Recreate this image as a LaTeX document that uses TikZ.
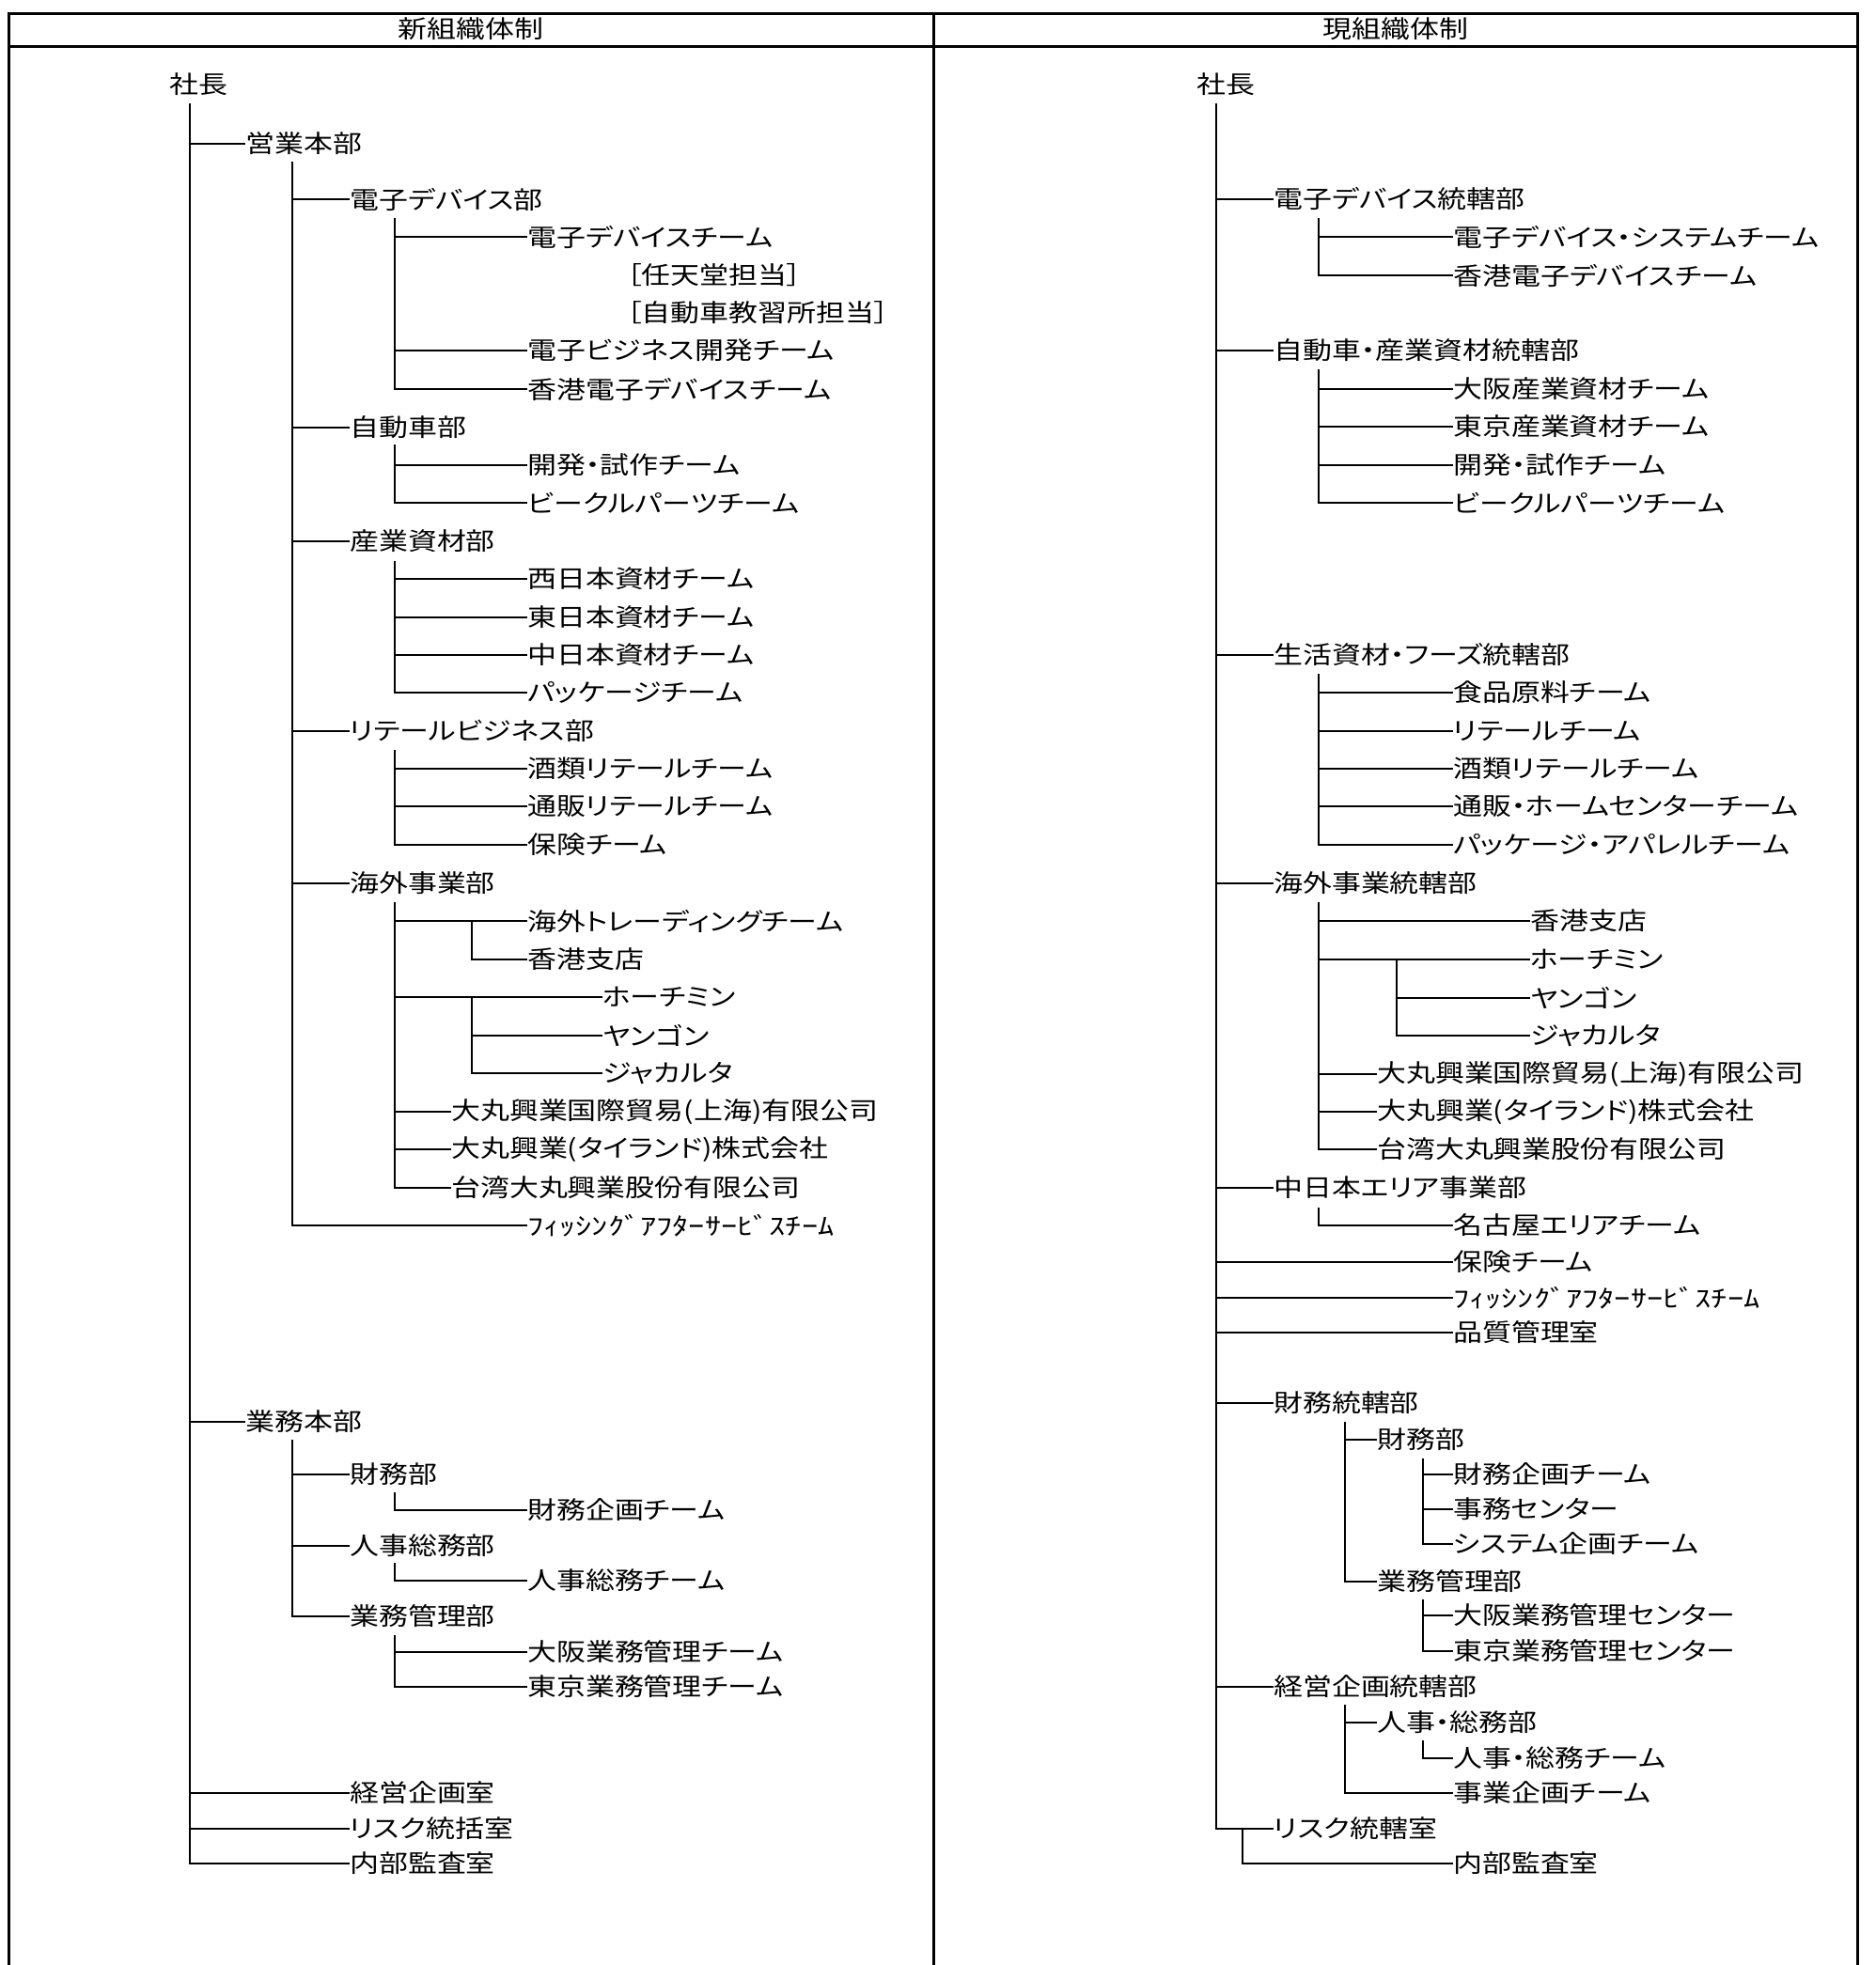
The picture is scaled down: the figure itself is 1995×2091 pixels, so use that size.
\documentclass[tikz,border=0pt]{standalone}
\usepackage{graphicx}
\usepackage{fontspec}
\setmainfont[FakeStretch=1.19,RawFeature=+palt]{Noto Sans CJK JP}
\newcommand{\widekana}[1]{\scalebox{1.11}[1]{#1}}

\begin{document}
\begin{tikzpicture}[x=1pt,y=-1pt,
  lbl/.style={anchor=west,inner sep=0pt,font=\fontsize{26}{30}\selectfont},
  ttl/.style={inner sep=0pt,font=\fontsize{26}{30}\selectfont},
  link/.style={line width=2pt},
  frame/.style={line width=3pt}]
\useasboundingbox (0,0) rectangle (1995,2091);

\draw[frame] (9,2091) -- (9,14) -- (1976,14) -- (1976,2091);
\draw[frame] (9,49) -- (1976,49);
\draw[frame] (993,14) -- (993,2091);
\node[ttl] (newtitle) at (501,31) {新組織体制};
\node[ttl] (curtitle) at (1485,31) {現組織体制};

\foreach \nm/\txt/\px/\py in {
  shachoA/社長/180/90, eigyo/営業本部/261/153,
  denshi/電子デバイス部/372/212, dteam/電子デバイスチーム/561/252,
  nintendo/［任天堂担当］/667/293, kyoshujo/［自動車教習所担当］/667/333,
  ebiz/電子ビジネス開発チーム/561/373, hkdev/香港電子デバイスチーム/561/414,
  jidosha/自動車部/372/455, kaihatsu/開発・試作チーム/561/495,
  vehicle/ビークルパーツチーム/561/535,
  sangyo/産業資材部/372/576, nishi/西日本資材チーム/561/616,
  higashi/東日本資材チーム/561/657, naka/中日本資材チーム/561/697,
  pkg/パッケージチーム/561/737,
  retail/リテールビジネス部/372/778, sake/酒類リテールチーム/561/818,
  tsuhan/通販リテールチーム/561/858, hoken/保険チーム/561/899,
  kaigai/海外事業部/372/940, trading/海外トレーディングチーム/561/980,
  hongkong/香港支店/561/1021, hcm/ホーチミン/641/1061,
  yangon/ヤンゴン/641/1102, jakarta/ジャカルタ/641/1142,
  shanghai/大丸興業国際貿易(上海)有限公司/480/1183,
  thai/大丸興業(タイランド)株式会社/480/1223,
  taiwan/台湾大丸興業股份有限公司/480/1264,
  fishing/\widekana{ﾌｨｯｼﾝｸﾞｱﾌﾀｰｻｰﾋﾞｽﾁｰﾑ}/561/1304,
  gyomu/業務本部/261/1513, zaimu/財務部/372/1569,
  zkikaku/財務企画チーム/561/1607, jinji/人事総務部/372/1645,
  jteam/人事総務チーム/561/1682, kanri/業務管理部/372/1720,
  osakak/大阪業務管理チーム/561/1758, tokyok/東京業務管理チーム/561/1795,
  keiei/経営企画室/372/1908, risk/リスク統括室/372/1946,
  kansa/内部監査室/372/1983}
  \node[lbl] (\nm) at (\px,\py) {\txt};

\foreach \nm/\txt/\px/\py in {
  shachoB/社長/1273/90,
  rdenshi/電子デバイス統轄部/1355/212,
  rdsys/電子デバイス・システムチーム/1546/252,
  rhkdev/香港電子デバイスチーム/1546/293,
  rjido/自動車・産業資材統轄部/1355/373,
  rosakas/大阪産業資材チーム/1546/414, rtokyos/東京産業資材チーム/1546/454,
  rkaihatsu/開発・試作チーム/1546/495, rvehicle/ビークルパーツチーム/1546/535,
  rseikatsu/生活資材・フーズ統轄部/1355/697,
  rfood/食品原料チーム/1546/737, rretail/リテールチーム/1546/778,
  rsake/酒類リテールチーム/1546/818,
  rtsuhan/通販・ホームセンターチーム/1546/858,
  rpkg/パッケージ・アパレルチーム/1546/899,
  rkaigai/海外事業統轄部/1355/940,
  rhk/香港支店/1628/980, rhcm/ホーチミン/1628/1021,
  ryangon/ヤンゴン/1628/1062, rjakarta/ジャカルタ/1628/1102,
  rshanghai/大丸興業国際貿易(上海)有限公司/1465/1143,
  rthai/大丸興業(タイランド)株式会社/1465/1183,
  rtaiwan/台湾大丸興業股份有限公司/1465/1223,
  rnaka/中日本エリア事業部/1355/1264, rnagoya/名古屋エリアチーム/1546/1304,
  rhoken/保険チーム/1546/1343,
  rfishing/\widekana{ﾌｨｯｼﾝｸﾞｱﾌﾀｰｻｰﾋﾞｽﾁｰﾑ}/1546/1381,
  rhinshitsu/品質管理室/1546/1418,
  rzaimut/財務統轄部/1355/1493, rzaimu/財務部/1465/1532,
  rzkikaku/財務企画チーム/1546/1569, rjimu/事務センター/1546/1606,
  rsystem/システム企画チーム/1546/1643,
  rkanri/業務管理部/1465/1683,
  rosakak/大阪業務管理センター/1546/1719,
  rtokyok/東京業務管理センター/1546/1757,
  rkeiei/経営企画統轄部/1355/1795, rjinji/人事・総務部/1465/1833,
  rjteam/人事・総務チーム/1546/1871, rjigyo/事業企画チーム/1546/1908,
  rrisk/リスク統轄室/1355/1946, rkansa/内部監査室/1546/1983}
  \node[lbl] (\nm) at (\px,\py) {\txt};

\coordinate (busA) at (202,110);
\coordinate (busEigyo) at (311,172);
\coordinate (busDenshi) at (420,232);
\coordinate (busJidosha) at (420,473);
\coordinate (busSangyo) at (420,597);
\coordinate (busRetail) at (420,798);
\coordinate (busKaigai) at (420,960);
\coordinate (busTrading) at (502,980);
\coordinate (busHcm) at (502,1061);
\coordinate (busGyomu) at (311,1532);
\coordinate (busZaimu) at (420,1588);
\coordinate (busJinji) at (420,1663);
\coordinate (busKanri) at (420,1740);

\foreach \c in {eigyo,gyomu,keiei,risk,kansa} \draw[link] (busA) |- (\c.west);
\foreach \c in {denshi,jidosha,sangyo,retail,kaigai,fishing} \draw[link] (busEigyo) |- (\c.west);
\foreach \c in {dteam,ebiz,hkdev} \draw[link] (busDenshi) |- (\c.west);
\foreach \c in {kaihatsu,vehicle} \draw[link] (busJidosha) |- (\c.west);
\foreach \c in {nishi,higashi,naka,pkg} \draw[link] (busSangyo) |- (\c.west);
\foreach \c in {sake,tsuhan,hoken} \draw[link] (busRetail) |- (\c.west);
\foreach \c in {trading,hcm,shanghai,thai,taiwan} \draw[link] (busKaigai) |- (\c.west);
\draw[link] (busTrading) |- (hongkong.west);
\foreach \c in {yangon,jakarta} \draw[link] (busHcm) |- (\c.west);
\foreach \c in {zaimu,jinji,kanri} \draw[link] (busGyomu) |- (\c.west);
\draw[link] (busZaimu) |- (zkikaku.west);
\draw[link] (busJinji) |- (jteam.west);
\foreach \c in {osakak,tokyok} \draw[link] (busKanri) |- (\c.west);

\coordinate (busB) at (1294,110);
\coordinate (busRdenshi) at (1403,232);
\coordinate (busRjido) at (1403,393);
\coordinate (busRseikatsu) at (1403,717);
\coordinate (busRkaigai) at (1403,960);
\coordinate (busRhcm) at (1486,1021);
\coordinate (busRnaka) at (1403,1285);
\coordinate (busRzaimut) at (1431,1513);
\coordinate (busRzaimu) at (1514,1552);
\coordinate (busRkanri) at (1514,1702);
\coordinate (busRkeiei) at (1431,1814);
\coordinate (busRjinji) at (1514,1852);
\coordinate (busRrisk) at (1322,1946);

\foreach \c in {rdenshi,rjido,rseikatsu,rkaigai,rnaka,rhoken,rfishing,rhinshitsu,rzaimut,rkeiei,rrisk}
  \draw[link] (busB) |- (\c.west);
\foreach \c in {rdsys,rhkdev} \draw[link] (busRdenshi) |- (\c.west);
\foreach \c in {rosakas,rtokyos,rkaihatsu,rvehicle} \draw[link] (busRjido) |- (\c.west);
\foreach \c in {rfood,rretail,rsake,rtsuhan,rpkg} \draw[link] (busRseikatsu) |- (\c.west);
\foreach \c in {rhk,rhcm,rshanghai,rthai,rtaiwan} \draw[link] (busRkaigai) |- (\c.west);
\foreach \c in {ryangon,rjakarta} \draw[link] (busRhcm) |- (\c.west);
\draw[link] (busRnaka) |- (rnagoya.west);
\foreach \c in {rzaimu,rkanri} \draw[link] (busRzaimut) |- (\c.west);
\foreach \c in {rzkikaku,rjimu,rsystem} \draw[link] (busRzaimu) |- (\c.west);
\foreach \c in {rosakak,rtokyok} \draw[link] (busRkanri) |- (\c.west);
\foreach \c in {rjinji,rjigyo} \draw[link] (busRkeiei) |- (\c.west);
\draw[link] (busRjinji) |- (rjteam.west);
\draw[link] (busRrisk) |- (rkansa.west);

\end{tikzpicture}
\end{document}
